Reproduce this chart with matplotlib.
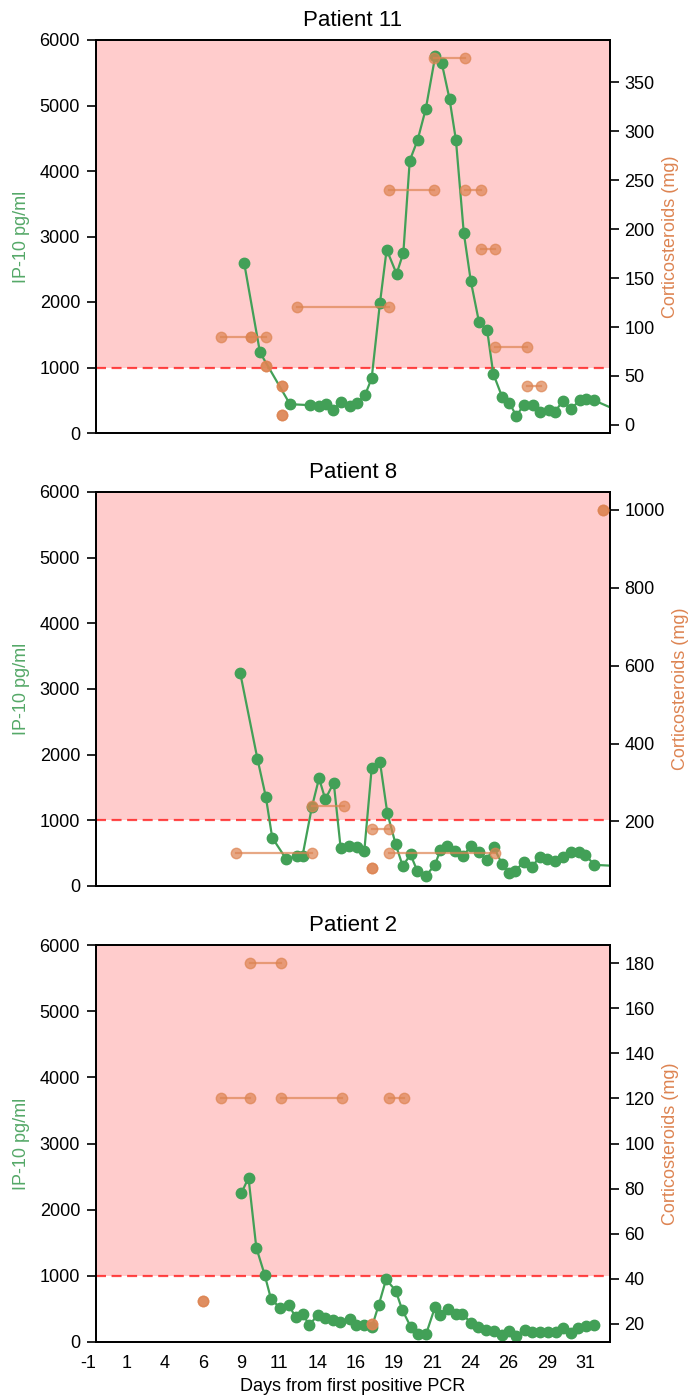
import matplotlib
matplotlib.use("Agg")
import matplotlib.pyplot as plt
import matplotlib.transforms as mtransforms
import numpy as np

plt.rcParams['font.family'] = ['Liberation Sans', 'DejaVu Sans']

GREEN = '#42A057'
GREEN_TXT = '#55A868'
ORANGE = '#DD8452'

# ---------------- data ----------------
p11_days = [8.69, 9.72, 11.68, 12.99, 13.58, 14.03, 14.51, 14.99, 15.6, 16.04, 16.58,
            17.02, 17.56, 18.0, 18.65, 19.09, 19.51, 20.02, 20.56, 21.18, 21.6, 22.11,
            22.53, 23.04, 23.5, 24.04, 24.57, 24.97, 25.55, 26.02, 26.48, 26.95, 27.57,
            28.05, 28.58, 28.99, 29.5, 30.02, 30.67, 31.02, 31.55, 33.5]
p11_ip10 = [2590, 1230, 440, 425, 405, 440, 350, 480, 405, 455, 575,
            835, 1980, 2800, 2430, 2750, 4160, 4470, 4950, 5760, 5650, 5100,
            4470, 3060, 2320, 1690, 1570, 905, 550, 460, 260, 425, 430,
            320, 345, 320, 485, 370, 500, 525, 500, 300]
p11_cs_start = [7.18, 9.11, 10.09, 11.16, 11.16, 12.14, 18.18, 21.09, 23.11, 24.16, 25.09, 27.18]
p11_cs_end = [9.11, 10.09, 10.09, 11.16, 11.16, 18.18, 21.09, 23.11, 24.16, 25.09, 27.18, 28.11]
p11_cs_mg = [90, 90, 60, 40, 10, 120, 240, 375, 240, 180, 80, 40]

p8_days = [8.43, 9.55, 10.1, 10.52, 11.45, 12.12, 12.5, 13.12, 13.58, 13.99, 14.54,
           14.99, 15.51, 16.04, 16.54, 17.02, 17.56, 18.04, 18.59, 19.05, 19.56, 20.0,
           20.55, 21.16, 21.51, 21.93, 22.44, 22.98, 23.49, 24.03, 24.54, 25.01, 25.55,
           26.02, 26.41, 26.95, 27.53, 28.0, 28.51, 28.98, 29.52, 30.06, 30.57, 30.99,
           31.57, 33.5]
p8_ip10 = [3240, 1940, 1360, 735, 405, 460, 460, 1210, 1640, 1320, 1575,
           585, 612, 590, 535, 1790, 1895, 1115, 634, 305, 480, 230,
           150, 325, 545, 605, 528, 450, 605, 511, 400, 587, 332,
           194, 230, 363, 296, 449, 414, 383, 449, 511, 511, 475,
           322, 300]
p8_cs_start = [8.12, 13.1, 17.05, 17.05, 18.17, 32.13]
p8_cs_end = [13.1, 15.18, 17.05, 18.17, 25.08, 32.13]
p8_cs_mg = [120, 240, 80, 180, 120, 1000]

p2_days = [8.50, 8.97, 9.48, 10.02, 10.44, 11.03, 11.59, 12.05, 12.52, 12.94, 13.5,
           13.97, 14.48, 14.95, 15.6, 16.02, 16.55, 17.03, 17.49, 17.96, 18.59, 19.01,
           19.59, 20.06, 20.58, 21.16, 21.51, 21.98, 22.51, 22.91, 23.52, 23.98, 24.5,
           25.01, 25.55, 26.02, 26.48, 27.02, 27.53, 28.0, 28.54, 29.05, 29.52, 30.06,
           30.52, 31.04, 31.57]
p2_ip10 = [2250, 2480, 1425, 1020, 650, 516, 566, 374, 430, 250, 415,
           365, 335, 305, 350, 262, 250, 225, 566, 945, 778, 490,
           222, 121, 121, 526, 415, 505, 430, 430, 288, 222, 187,
           162, 111, 172, 86, 187, 147, 147, 147, 147, 212, 136,
           212, 238, 253]
p2_cs_start = [6.0, 7.15, 9.09, 11.12, 17.03, 18.15]
p2_cs_end = [6.0, 9.09, 11.12, 15.11, 17.03, 19.13]
p2_cs_mg = [30, 120, 180, 120, 20, 120]

titles = ['Patient 11', 'Patient 8', 'Patient 2']
tick_pos = np.arange(-1, 32, 2.5)
tick_labels = [str(int(t)) for t in tick_pos]
threshold = 1000

patients = [
    (p11_days, p11_ip10, p11_cs_start, p11_cs_end, p11_cs_mg),
    (p8_days, p8_ip10, p8_cs_start, p8_cs_end, p8_cs_mg),
    (p2_days, p2_ip10, p2_cs_start, p2_cs_end, p2_cs_mg),
]

# ---------------- figure ----------------
fig = plt.figure(figsize=(6.88, 13.99), dpi=100)
W, H = 688, 1399
L, R = 96, 610
rows = [(40, 433), (492, 886), (945, 1342)]
FS_TICK = 13
FS_LAB = 13

for i, ((days, ip10, cs0, cs1, mg), (top, bot)) in enumerate(zip(patients, rows)):
    ax = fig.add_axes([L / W, 1 - bot / H, (R - L) / W, (bot - top) / H])
    ax.axhspan(threshold, 6000, color='red', alpha=0.2, lw=0, zorder=0)
    ax.axhline(threshold, color='red', alpha=0.7, lw=1.6, ls=(0, (4.5, 2.5)), zorder=1)
    ax.plot(days, ip10, '-o', color=GREEN, lw=1.6, ms=7.5, zorder=3)
    ax.set_ylim(0, 6000)
    ax.set_xlim(-1, 32.6)
    ax.set_yticks(np.arange(0, 6001, 1000))
    ax.set_ylabel('IP-10 pg/ml', color=GREEN_TXT, fontsize=FS_LAB, labelpad=7)
    ax.set_title(titles[i], fontsize=16, pad=10)
    ax.set_xticks(tick_pos)
    ax.tick_params(axis='x', length=0, labelsize=FS_TICK, pad=9)
    ax.tick_params(axis='y', length=6.5, width=1.2, labelsize=FS_TICK, pad=5, direction='out')
    for s in ax.spines.values():
        s.set_linewidth(1.3)
    if i < 2:
        ax.set_xticklabels([])
    else:
        ax.set_xticklabels(tick_labels)
        off = mtransforms.ScaledTranslation(-0.08, 0, fig.dpi_scale_trans)
        for lab in ax.get_xticklabels():
            lab.set_transform(lab.get_transform() + off)
        ax.set_xlabel('Days from first positive PCR', fontsize=FS_LAB, labelpad=5)

    ax2 = ax.twinx()
    for a, b, m in zip(cs0, cs1, mg):
        ax2.plot([a, b], [m, m], '-o', color=ORANGE, alpha=0.7, lw=1.6, ms=7.5, zorder=4)
    ax2.set_ylabel('Corticosteroids (mg)', color=ORANGE, fontsize=FS_LAB, labelpad=5)
    ax2.tick_params(axis='y', length=6.5, width=1.2, labelsize=FS_TICK, pad=4, direction='out')
    ax2.set_xlim(-1, 32.6)
    for s in ax2.spines.values():
        s.set_linewidth(1.3)

fig.savefig('out.png', dpi=100)
